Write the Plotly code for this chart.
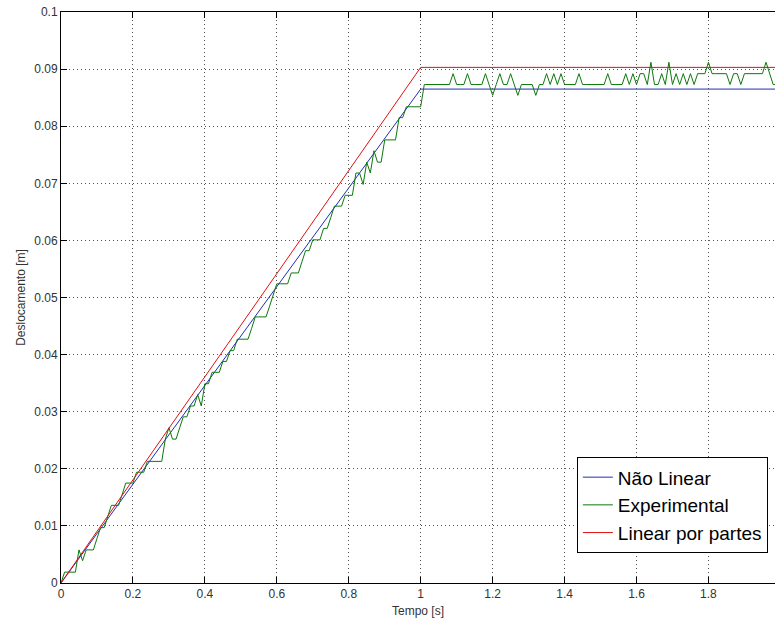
import plotly.graph_objects as go

# Model curves (time in s, displacement in m)
tempo_modelo = [0.0, 1.0, 1.99]
nao_linear = [0.0, 0.0865, 0.0865]
tempo_partes = [0.0, 1.0, 1.99]
linear_partes = [0.0, 0.0903, 0.0903]

# Experimental samples, dt = 0.01 s
tempo_exp = [round(i * 0.01, 2) for i in range(200)]
experimental = [
    0.0, 0.0019, 0.0019, 0.0019, 0.0019, 0.0058, 0.0039, 0.0058, 0.0058, 0.0058,
    0.0078, 0.0097, 0.0097, 0.0116, 0.0136, 0.0136, 0.0136, 0.0155, 0.0175, 0.0175,
    0.0175, 0.0194, 0.0194, 0.0194, 0.0213, 0.0213, 0.0213, 0.0213, 0.0213, 0.0252,
    0.0272, 0.0252, 0.0252, 0.0272, 0.0291, 0.0291, 0.0310, 0.0310, 0.0330, 0.0310,
    0.0349, 0.0349, 0.0369, 0.0369, 0.0369, 0.0388, 0.0388, 0.0407, 0.0407, 0.0427,
    0.0427, 0.0427, 0.0427, 0.0446, 0.0466, 0.0466, 0.0466, 0.0466, 0.0485, 0.0504,
    0.0524, 0.0524, 0.0524, 0.0524, 0.0543, 0.0543, 0.0543, 0.0563, 0.0582, 0.0582,
    0.0601, 0.0601, 0.0601, 0.0621, 0.0621, 0.0640, 0.0660, 0.0660, 0.0660, 0.0679,
    0.0679, 0.0679, 0.0718, 0.0718, 0.0698, 0.0737, 0.0718, 0.0757, 0.0737, 0.0737,
    0.0776, 0.0776, 0.0776, 0.0776, 0.0815, 0.0815, 0.0834, 0.0834, 0.0834, 0.0834,
    0.0834, 0.0873, 0.0873, 0.0873, 0.0873, 0.0873, 0.0873, 0.0873, 0.0873, 0.0892,
    0.0873, 0.0873, 0.0873, 0.0892, 0.0873, 0.0873, 0.0873, 0.0873, 0.0892, 0.0873,
    0.0854, 0.0873, 0.0892, 0.0873, 0.0873, 0.0892, 0.0873, 0.0854, 0.0873, 0.0873,
    0.0873, 0.0873, 0.0854, 0.0873, 0.0873, 0.0892, 0.0873, 0.0892, 0.0873, 0.0892,
    0.0873, 0.0873, 0.0873, 0.0873, 0.0892, 0.0873, 0.0873, 0.0873, 0.0873, 0.0873,
    0.0873, 0.0873, 0.0892, 0.0873, 0.0873, 0.0873, 0.0873, 0.0892, 0.0873, 0.0892,
    0.0873, 0.0892, 0.0892, 0.0873, 0.0912, 0.0873, 0.0873, 0.0892, 0.0873, 0.0912,
    0.0873, 0.0892, 0.0873, 0.0892, 0.0873, 0.0892, 0.0873, 0.0892, 0.0892, 0.0892,
    0.0912, 0.0892, 0.0892, 0.0892, 0.0892, 0.0892, 0.0873, 0.0892, 0.0892, 0.0873,
    0.0892, 0.0892, 0.0892, 0.0892, 0.0892, 0.0892, 0.0912, 0.0892, 0.0873, 0.0873,
]

x_ticks = [0, 0.2, 0.4, 0.6, 0.8, 1.0, 1.2, 1.4, 1.6, 1.8]
x_labels = ["0", "0.2", "0.4", "0.6", "0.8", "1", "1.2", "1.4", "1.6", "1.8"]
y_ticks = [0, 0.01, 0.02, 0.03, 0.04, 0.05, 0.06, 0.07, 0.08, 0.09, 0.1]
y_labels = ["0", "0.01", "0.02", "0.03", "0.04", "0.05", "0.06", "0.07", "0.08", "0.09", "0.1"]

fig = go.Figure()
fig.add_trace(go.Scatter(x=tempo_modelo, y=nao_linear, mode="lines", name="Não Linear",
                         line=dict(color="#1f2fb5", width=1)))
fig.add_trace(go.Scatter(x=tempo_exp, y=experimental, mode="lines", name="Experimental",
                         line=dict(color="#0a7a0a", width=1)))
fig.add_trace(go.Scatter(x=tempo_partes, y=linear_partes, mode="lines", name="Linear por partes",
                         line=dict(color="#e01010", width=1)))

axis_font = dict(family="Liberation Sans, Arial", size=12, color="#333333")

fig.update_layout(
    width=776, height=620,
    margin=dict(l=61, r=1, t=12, b=37),
    paper_bgcolor="white", plot_bgcolor="white",
    font=dict(family="Liberation Sans, Arial", size=12, color="#333333"),
    showlegend=True,
    legend=dict(
        x=0.99, xanchor="right", y=0.052, yanchor="bottom",
        bgcolor="white", bordercolor="black", borderwidth=1,
        font=dict(family="Liberation Sans, Arial", size=19, color="black"),
        tracegroupgap=0,
    ),
    xaxis=dict(
        range=[0, 1.985], tickvals=x_ticks, ticktext=x_labels,
        showline=True, linecolor="black", linewidth=1, mirror="ticks",
        ticks="inside", ticklen=6, tickcolor="black",
        showgrid=True, gridcolor="#555555", gridwidth=1, griddash="1px,3px",
        zeroline=False, tickfont=axis_font,
        title=dict(text="Tempo [s]", font=axis_font, standoff=6),
    ),
    yaxis=dict(
        range=[0, 0.1], tickvals=y_ticks, ticktext=y_labels,
        showline=True, linecolor="black", linewidth=1, mirror=False,
        ticks="inside", ticklen=6, tickcolor="black",
        showgrid=True, gridcolor="#555555", gridwidth=1, griddash="1px,3px",
        zeroline=False, tickfont=axis_font,
        title=dict(text="Deslocamento [m]", font=axis_font, standoff=6),
    ),
)

fig.write_html("out.html")
